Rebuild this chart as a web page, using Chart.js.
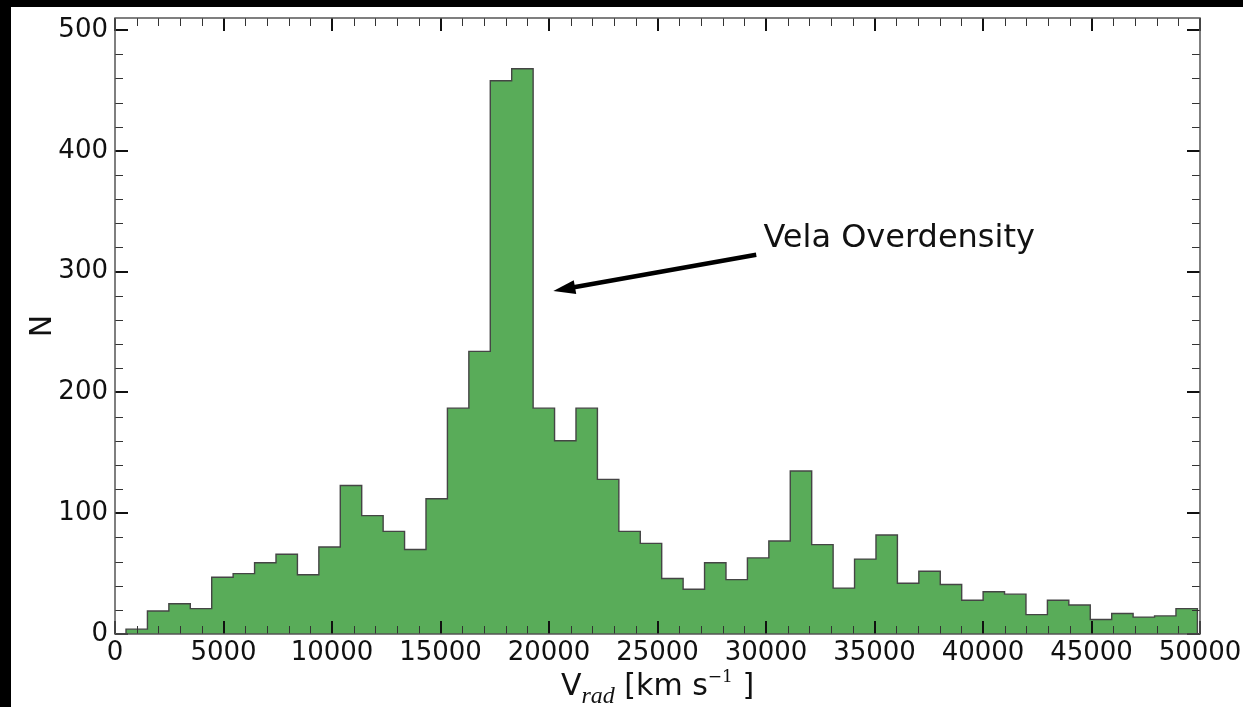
<!DOCTYPE html>
<html>
<head>
<meta charset="utf-8">
<title>Radial velocity distribution</title>
<script src="https://cdn.jsdelivr.net/npm/chart.js@4.4.1/dist/chart.umd.min.js"></script>
<style>
  html, body { margin: 0; padding: 0; background: #000; }
  #wrap { position: absolute; left: 11px; top: 7px; width: 1232px; height: 700px; background: #fff; }
</style>
</head>
<body>
<div id="wrap"><canvas id="velChart"></canvas></div>
<script>
// galaxies per radial-velocity bin, 50 equal-width bins from velMin to velMax (km/s)
const binCounts = [
  4, 19, 25, 21, 47, 50, 59, 66, 49, 72,
  123, 98, 85, 70, 112, 187, 234, 458, 468, 187,
  160, 187, 128, 85, 75, 46, 37, 59, 45, 63,
  77, 135, 74, 38, 62, 82, 42, 52, 41, 28,
  35, 33, 16, 28, 24, 12, 17, 14, 15, 21
];
const velMin = 507;
const velMax = 49880;

const xTicks = [0, 5000, 10000, 15000, 20000, 25000, 30000, 35000, 40000, 45000, 50000];
const yTicks = [0, 100, 200, 300, 400, 500];
const xMinorStep = 1000;
const yMinorStep = 20;
const yMax = 510;

// annotation in data coordinates
const noteText = "Vela Overdensity";
const noteTextAt = { x: 29880, y: 320 };
const arrowTail = { x: 29550, y: 314 };
const arrowHead = { x: 20200, y: 284 };

const TEXT = "#111";
const SANS = '"DejaVu Sans", sans-serif';

// outline of the histogram as a step path
const binWidth = (velMax - velMin) / binCounts.length;
const stepPoints = [{ x: velMin, y: 0 }];
binCounts.forEach((c, i) => stepPoints.push({ x: velMin + i * binWidth, y: c }));
stepPoints.push({ x: velMax, y: 0 });

function drawRuns(ctx, runs, cx, baseY) {
  let total = 0;
  runs.forEach(r => { ctx.font = r.font; r.w = ctx.measureText(r.text).width; total += r.w; });
  let x = cx - total / 2;
  ctx.textAlign = "left";
  ctx.textBaseline = "alphabetic";
  runs.forEach(r => {
    ctx.font = r.font;
    ctx.fillText(r.text, x, baseY + (r.dy || 0));
    x += r.w;
  });
}

const framePlugin = {
  id: "frame",
  afterDatasetsDraw(chart) {
    const { ctx, chartArea: a, scales } = chart;
    const xs = scales.x, ys = scales.y;
    ctx.save();

    // inward ticks on all four sides
    const tick = (x1, y1, x2, y2) => { ctx.beginPath(); ctx.moveTo(x1, y1); ctx.lineTo(x2, y2); ctx.stroke(); };
    ctx.strokeStyle = "#333";
    ctx.lineWidth = 1;
    for (let v = 0; v <= 50000; v += xMinorStep) {
      if (xTicks.includes(v)) continue;
      const px = Math.round(xs.getPixelForValue(v)) + 0.5;
      tick(px, a.bottom, px, a.bottom - 8);
      tick(px, a.top, px, a.top + 8);
    }
    for (let v = 0; v <= yMax; v += yMinorStep) {
      if (yTicks.includes(v)) continue;
      const py = Math.round(ys.getPixelForValue(v)) + 0.5;
      tick(a.left, py, a.left + 8, py);
      tick(a.right, py, a.right - 8, py);
    }
    ctx.strokeStyle = "#111";
    ctx.lineWidth = 2;
    xTicks.forEach(v => {
      const px = Math.round(xs.getPixelForValue(v));
      tick(px, a.bottom, px, a.bottom - 13);
      tick(px, a.top, px, a.top + 13);
    });
    yTicks.forEach(v => {
      const py = Math.round(ys.getPixelForValue(v));
      tick(a.left, py, a.left + 13, py);
      tick(a.right, py, a.right - 13, py);
    });

    // axes frame
    ctx.strokeStyle = "#555";
    ctx.lineWidth = 1.5;
    ctx.strokeRect(a.left, a.top, a.right - a.left, a.bottom - a.top);

    // axis titles
    ctx.fillStyle = TEXT;
    drawRuns(ctx, [
      { text: "V", font: "30px " + SANS },
      { text: "rad", font: 'italic 24px "Liberation Serif", serif', dy: 8 },
      { text: " [km s", font: "30px " + SANS },
      { text: "\u22121", font: '17px "DejaVu Serif", serif', dy: -13 },
      { text: " ]", font: "30px " + SANS }
    ], (a.left + a.right) / 2, a.bottom + 61);

    ctx.save();
    ctx.translate(a.left - 72, (a.top + a.bottom) / 2);
    ctx.rotate(-Math.PI / 2);
    ctx.font = "30px " + SANS;
    ctx.textAlign = "center";
    ctx.textBaseline = "middle";
    ctx.fillText("N", 0, 0);
    ctx.restore();

    // annotation arrow pointing at the peak
    const tx = xs.getPixelForValue(arrowTail.x), ty = ys.getPixelForValue(arrowTail.y);
    const hx = xs.getPixelForValue(arrowHead.x), hy = ys.getPixelForValue(arrowHead.y);
    const ang = Math.atan2(hy - ty, hx - tx);
    const headLen = 22, headHalf = 7;
    const bx = hx - headLen * Math.cos(ang), by = hy - headLen * Math.sin(ang);
    ctx.strokeStyle = "#000";
    ctx.fillStyle = "#000";
    ctx.lineWidth = 4.5;
    ctx.beginPath();
    ctx.moveTo(tx, ty);
    ctx.lineTo(bx + 4 * Math.cos(ang), by + 4 * Math.sin(ang));
    ctx.stroke();
    ctx.beginPath();
    ctx.moveTo(hx, hy);
    ctx.lineTo(bx - headHalf * Math.sin(ang), by + headHalf * Math.cos(ang));
    ctx.lineTo(bx + headHalf * Math.sin(ang), by - headHalf * Math.cos(ang));
    ctx.closePath();
    ctx.fill();

    ctx.fillStyle = TEXT;
    ctx.font = "32px " + SANS;
    ctx.textAlign = "left";
    ctx.textBaseline = "alphabetic";
    ctx.fillText(noteText, xs.getPixelForValue(noteTextAt.x), ys.getPixelForValue(noteTextAt.y));

    ctx.restore();
  }
};

const tickFont = { family: SANS, size: 26 };
const hidden = { display: false, drawTicks: false };

new Chart(document.getElementById("velChart"), {
  type: "line",
  data: {
    datasets: [{
      data: stepPoints,
      xAxisID: "x",
      yAxisID: "y",
      stepped: "before",
      fill: "origin",
      backgroundColor: "rgb(89, 172, 89)",
      borderColor: "#454545",
      borderWidth: 1.4,
      pointRadius: 0,
      tension: 0
    }]
  },
  options: {
    responsive: true,
    maintainAspectRatio: false,
    animation: false,
    events: [],
    layout: { padding: 0 },
    plugins: { legend: { display: false }, tooltip: { enabled: false } },
    scales: {
      x: {
        type: "linear", position: "bottom", min: 0, max: 50000,
        grid: hidden, border: { display: false },
        afterBuildTicks: s => { s.ticks = xTicks.map(v => ({ value: v })); },
        afterFit: s => { s.height = 73; s.paddingLeft = 0; s.paddingRight = 0; },
        ticks: { font: tickFont, color: TEXT, padding: 4, maxRotation: 0, autoSkip: false, callback: v => String(v) }
      },
      x2: {
        type: "linear", position: "top", min: 0, max: 50000,
        grid: hidden, border: { display: false }, ticks: { display: false },
        afterFit: s => { s.height = 11; s.paddingLeft = 0; s.paddingRight = 0; }
      },
      y: {
        type: "linear", position: "left", min: 0, max: yMax,
        grid: hidden, border: { display: false },
        afterBuildTicks: s => { s.ticks = yTicks.map(v => ({ value: v })); },
        afterFit: s => { s.width = 104; s.paddingTop = 0; s.paddingBottom = 0; },
        ticks: { font: tickFont, color: TEXT, padding: 7, autoSkip: false, callback: v => String(v) }
      },
      y2: {
        type: "linear", position: "right", min: 0, max: yMax,
        grid: hidden, border: { display: false }, ticks: { display: false },
        afterFit: s => { s.width = 43; s.paddingTop = 0; s.paddingBottom = 0; }
      }
    }
  },
  plugins: [framePlugin]
});
</script>
</body>
</html>
